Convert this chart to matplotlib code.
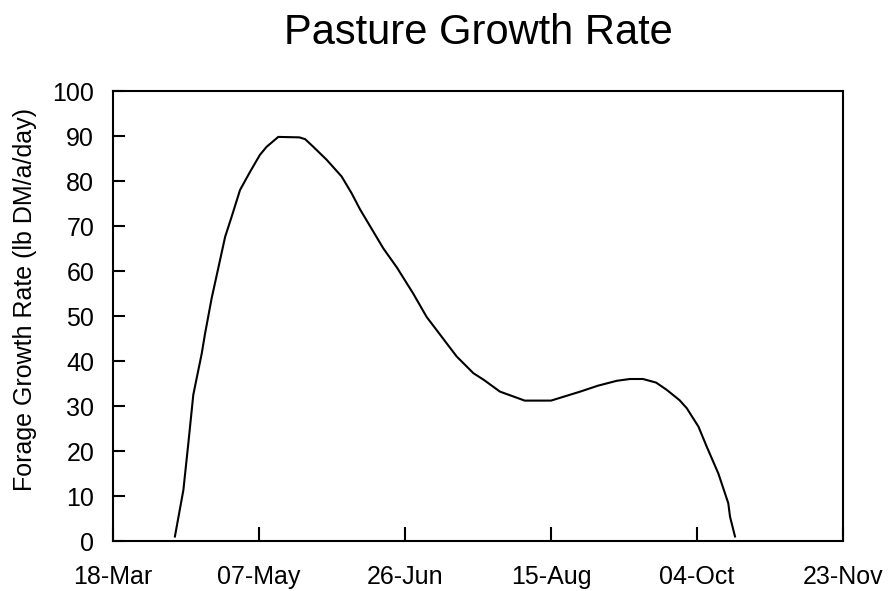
import matplotlib
matplotlib.use('Agg')
import matplotlib.pyplot as plt
import matplotlib.dates as mdates
import pandas as pd

# Pasture growth curve
start = '2001-03-18'
days = [21.2, 24.1, 25.8, 27.5, 30.4, 31.5, 33.8, 35.5, 38.4, 40.6,
        43.5, 46.9, 50.3, 52.6, 56.6, 63.8, 65.8, 68.6, 73.2, 78.3,
        81.7, 84.6, 92.6, 97.2, 102.8, 107.4, 114.3, 117.7, 123.4, 127,
        132.5, 141, 150, 160, 166, 172.5, 177, 181.5, 186, 189.6,
        194, 196.5, 200.5, 203.3, 207.3, 210.7, 211.3, 213]  # days after 18-Mar
growth = [1, 11.3, 21.7, 32.5, 41.7, 46, 54, 59, 67.6, 72,
          78, 82, 85.8, 87.6, 89.8, 89.7, 89.3, 87.6, 84.7, 81,
          77.3, 73.7, 65, 60.8, 55, 49.8, 43.9, 41, 37.3, 35.8,
          33.2, 31.2, 31.2, 33.2, 34.5, 35.6, 36, 36, 35.2, 33.6,
          31.3, 29.5, 25.4, 21, 15, 8.4, 5.4, 1]  # lb DM/a/day

tick_dates = ['2001-03-18', '2001-05-07', '2001-06-26', '2001-08-15', '2001-10-04', '2001-11-23']
y_ticks = list(range(0, 101, 10))

plt.rcParams['font.family'] = ['Liberation Sans', 'DejaVu Sans']

x = pd.Timestamp(start) + pd.to_timedelta(days, unit='D')
xt = pd.to_datetime(tick_dates)

fig = plt.figure(figsize=(8.89, 5.91), dpi=100)
ax = fig.add_axes([0.1271, 0.0846, 0.8212, 0.7614])
ax.plot(x, growth, color='black', linewidth=1.5)

ax.set_xlim(xt[0], xt[-1])
ax.set_ylim(0, 100)
ax.set_xticks(xt)
ax.xaxis.set_major_formatter(mdates.DateFormatter('%d-%b'))
ax.set_yticks(y_ticks)

ax.tick_params(axis='x', direction='in', length=10, width=1.5, labelsize=18, pad=17)
ax.tick_params(axis='y', direction='in', length=8.5, width=1.5, labelsize=18, pad=13.5)
for s in ax.spines.values():
    s.set_linewidth(1.5)

ax.set_ylabel('Forage Growth Rate (lb DM/a/day)', fontsize=18)
ax.yaxis.set_label_coords(-0.104, 0.536)
ax.set_title('Pasture Growth Rate', fontsize=30, pad=34)

fig.savefig('out.png', dpi=100)
